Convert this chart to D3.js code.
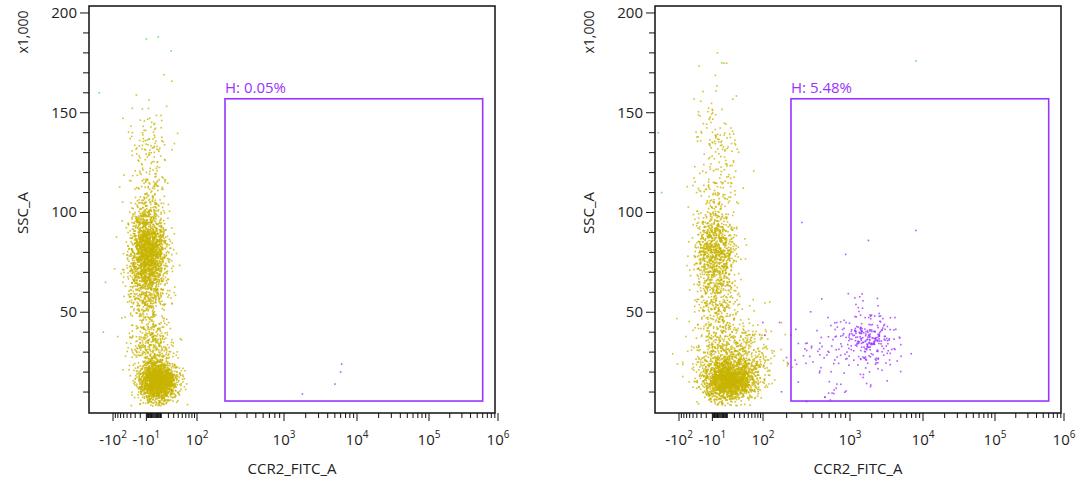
<!DOCTYPE html>
<html><head><meta charset="utf-8">
<script src="https://cdn.jsdelivr.net/npm/d3@7"></script>
<style>body{margin:0;background:#fff}svg{font-family:"Open Sans",sans-serif}</style>
</head><body><svg width="1077" height="492"></svg>
<script>
// gate per panel
var panelTitles = ["H: 0.05%", "H: 5.48%"]
var gate = {x0: 225, x1: 600000, y0: 5.5, y1: 157}
// clusters: [panel, xCenter, xSpreadPx, yCenter, ySpread, count, colour]
var clusters = [
  [0, -8, 9, 80, 11, 1900, "y"], [0, 5, 9, 15, 5, 1700, "y"], [0, -3, 10, 30, 9, 450, "y"],
  [0, -8, 11, 120, 18, 220, "y"], [0, -8, 11, 55, 10, 260, "y"],
  [1, -5, 10, 80, 12, 950, "y"], [1, 12, 13, 16, 5, 1800, "y"], [1, 20, 20, 30, 8, 600, "y"],
  [1, -5, 11, 125, 22, 200, "y"], [1, -5, 12, 52, 10, 250, "y"],
  [1, 1900, 13, 37, 7, 230, "p"], [1, 700, 28, 30, 11, 110, "p"]
]
var extraPoints = [
  [0, 1800, 9, "p"], [0, 5000, 14, "p"], [0, 6000, 20, "p"], [0, 6200, 24, "p"],
  [0, -160, 160, "g"], [0, 5, 188, "g"], [0, -10, 187, "g"], [0, 25, 181, "g"], [0, -130, 65, "g"], [0, -140, 40, "g"],
  [1, 8000, 176, "g"], [1, -200, 140, "g"], [1, -180, 110, "g"], [1, 2, 175, "g"],
  [1, 300, 95, "p"], [1, 8000, 91, "p"], [1, 1800, 86, "p"], [1, 900, 79, "p"]
]
var xTickLabels = [[-100, "-10", "2"], [-10, "-10", "1"], [100, "10", "2"], [1000, "10", "3"], [10000, "10", "4"], [100000, "10", "5"], [1000000, "10", "6"]]
var yTickLabels = [50, 100, 150, 200]
var colours = {y: "#c8b400", p: "#9933ff", g: "#44dd44"}

var svg = d3.select("svg")
var panelOffsets = [0, 566]
var seed = 12345
function rnd() { seed = (seed * 16807) % 2147483647; return (seed - 1) / 2147483646 }
function gauss() { var u = rnd() || 1e-9, v = rnd(); return Math.sqrt(-2 * Math.log(u)) * Math.cos(2 * Math.PI * v) }
var sl = d3.scaleSymlog().constant(35).domain([0, 1]).range([0, 1])
function tf(v) { return sl(v) }

panelOffsets.forEach(function(off, pi) {
  // biexponential-like axis: symlog, then piecewise fitted to the decade marks
  var lin = d3.scaleLinear().domain([-222, -100, 0, 100, 1000, 10000, 100000, 1000000].map(tf))
    .range([89, 113, 154, 197, 284, 357, 429, 498].map(function(p) { return p + off }))
  var x = function(v) { return lin(tf(v)) }
  var y = d3.scaleLinear().domain([-0.5, 203.5]).range([413, 6])
  var g = svg.append("g")
  var pts = []
  clusters.filter(function(c) { return c[0] == pi }).forEach(function(c) {
    var cx = x(c[1])
    for (var i = 0; i < c[5]; i++) {
      var px = cx + gauss() * c[2], vy = c[3] + gauss() * c[4]
      if (vy < 3) vy = 3 + rnd() * 3
      pts.push({px: px, py: y(vy), c: colours[c[6]]})
    }
  })
  extraPoints.filter(function(e) { return e[0] == pi }).forEach(function(e) {
    pts.push({px: x(e[1]), py: y(e[2]), c: colours[e[3]]})
  })
  pts = pts.filter(function(d) { return d.px > 90 + off && d.px < 494 + off && d.py > 7 })
  g.selectAll("rect.pt").data(pts).enter().append("rect").attr("class", "pt")
    .attr("x", function(d) { return d.px - 0.8 }).attr("y", function(d) { return d.py - 0.8 })
    .attr("width", 1.6).attr("height", 1.6).attr("fill", function(d) { return d.c }).attr("opacity", 0.8)

  g.append("rect").attr("x", x(gate.x0)).attr("y", y(gate.y1))
    .attr("width", x(gate.x1) - x(gate.x0)).attr("height", y(gate.y0) - y(gate.y1))
    .attr("fill", "none").attr("stroke", "#9933ff").attr("stroke-width", 1.6)
  g.append("text").attr("x", x(gate.x0)).attr("y", y(gate.y1) - 6).attr("fill", "#9933ff")
    .attr("font-size", 15).text(panelTitles[pi])

  g.append("rect").attr("x", 89 + off).attr("y", 6).attr("width", 406).attr("height", 407)
    .attr("fill", "none").attr("stroke", "#111").attr("stroke-width", 1.5)

  // y ticks
  d3.range(10, 201, 10).forEach(function(v) {
    var major = v % 50 == 0
    g.append("line").attr("x1", 89 + off).attr("x2", 89 + off - (major ? 9 : 6))
      .attr("y1", y(v)).attr("y2", y(v)).attr("stroke", "#111")
  })
  yTickLabels.forEach(function(v) {
    g.append("text").attr("x", 77 + off).attr("y", y(v) + 5).attr("text-anchor", "end")
      .attr("font-size", 15).attr("fill", "#222").text(v)
  })
  // x ticks
  var minor = []
  ;[1, 10, 100, 1000, 10000, 100000].forEach(function(dec) {
    for (var k = 2; k <= 9; k++) { minor.push(k * dec); if (dec <= 10) minor.push(-k * dec) }
  })
  minor.push(-1, 0, 1)
  minor.forEach(function(v) {
    if (v < -222) return
    g.append("line").attr("x1", x(v)).attr("x2", x(v)).attr("y1", 413).attr("y2", 418).attr("stroke", "#111")
  })
  xTickLabels.forEach(function(t) {
    g.append("line").attr("x1", x(t[0])).attr("x2", x(t[0])).attr("y1", 413).attr("y2", 421).attr("stroke", "#111")
    var tx = g.append("text").attr("x", x(t[0])).attr("y", 445).attr("text-anchor", "middle")
      .attr("font-size", 15).attr("fill", "#222")
    tx.append("tspan").text(t[1])
    tx.append("tspan").attr("dy", -7).attr("font-size", 10).text(t[2])
  })
  g.append("text").attr("x", 292 + off).attr("y", 474).attr("text-anchor", "middle")
    .attr("font-size", 15).attr("fill", "#222").text("CCR2_FITC_A")
  g.append("text").attr("transform", "translate(" + (28 + off) + ",213) rotate(-90)")
    .attr("text-anchor", "middle").attr("font-size", 15).attr("fill", "#222").text("SSC_A")
  g.append("text").attr("transform", "translate(" + (28 + off) + ",32) rotate(-90)")
    .attr("text-anchor", "middle").attr("font-size", 14).attr("fill", "#222").text("x1,000")
})
</script></body></html>
